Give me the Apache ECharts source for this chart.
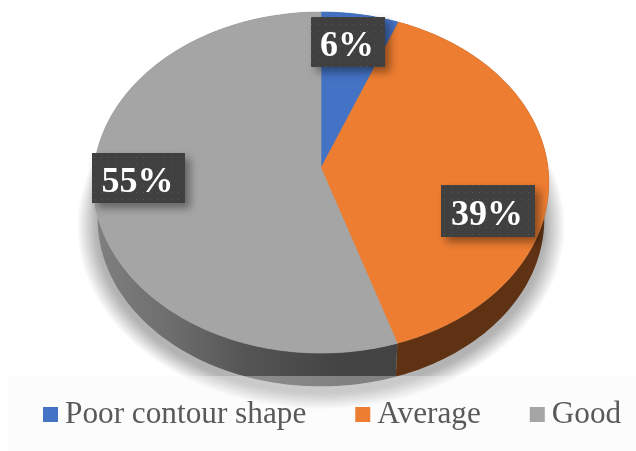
<!DOCTYPE html>
<html>
<head>
<meta charset="utf-8">
<style>
html, body { margin: 0; padding: 0; background: #fff; }
#main { width: 636px; height: 451px; filter: blur(0.5px); }
</style>
<script src="https://cdn.jsdelivr.net/npm/echarts@6/dist/echarts.min.js"></script>
</head>
<body>
<div id="main"></div>
<script>
// data
var categories = ['Poor contour shape', 'Average', 'Good'];
var values = [6, 39, 55];
var labels = ['6%', '39%', '55%'];
var colors = ['#4472c4', '#ed7d31', '#a5a5a5'];

// tilted disc: circle seen in perspective
var cx = 321, cy = 168, rx = 227, ry = 169.3, persp = -0.0852;
var depth = 37, baseScale = 0.98;
var labelCenters = [[348, 42], [488, 211], [138.5, 178]];
var labelSizes = [[74, 50], [94, 52], [93, 50]];

var total = values.reduce(function (a, b) { return a + b; }, 0);

function project(deg, scale, dy) {
    var t = deg * Math.PI / 180;
    var u = Math.sin(t), v = -Math.cos(t);
    var w = 1 + persp * v;
    return [cx + scale * rx * u / w, cy + dy + scale * ry * v / w];
}

function arc(from, to, scale, dy) {
    var pts = [];
    var n = Math.max(2, Math.ceil(to - from));
    for (var i = 0; i <= n; i++) {
        pts.push(project(from + (to - from) * i / n, scale, dy));
    }
    return pts;
}

// little dotted texture of the label boxes
var dots = document.createElement('canvas');
dots.width = dots.height = 7;
var dctx = dots.getContext('2d');
dctx.fillStyle = '#404040';
dctx.fillRect(0, 0, 7, 7);
dctx.fillStyle = '#585858';
dctx.fillRect(3, 3, 1, 1);

function wallFill(i) {
    if (i === 2) {
        return new echarts.graphic.LinearGradient(93, 0, 397, 0, [
            { offset: 0, color: '#808080' },
            { offset: 0.25, color: '#6e6e6e' },
            { offset: 0.5, color: '#555555' },
            { offset: 0.8, color: '#444444' },
            { offset: 1, color: '#434343' }
        ], true);
    }
    return i === 1 ? '#5f3214' : '#29446f';
}

// soft shadow under the disc, stacked from faint rings
function shadowRings() {
    var rings = [];
    for (var n = 0; n < 20; n++) {
        rings.push({
            type: 'polygon',
            z2: 0,
            shape: { points: arc(0, 360, baseScale + 0.09 - n * 0.0045, depth + 6) },
            style: { fill: 'rgba(0,0,0,0.017)' }
        });
    }
    return rings;
}

function renderSlice(params, api) {
    var i = params.seriesIndex;
    var start = 0;
    for (var k = 0; k < i; k++) start += values[k];
    var from = start / total * 360;
    var to = from + api.value(0) / total * 360;
    var rim = arc(from, to, 1, 0);
    var base = arc(from, to, baseScale, depth).reverse();
    var c = labelCenters[i], s = labelSizes[i];
    var children = [
        {
            type: 'polygon',
            z2: 1,
            shape: { points: rim.concat(base) },
            style: { fill: wallFill(i) }
        },
        {
            type: 'polygon',
            z2: 2,
            shape: { points: [[cx, cy]].concat(rim) },
            style: { fill: colors[i], stroke: colors[i], lineWidth: 0.6 }
        },
        {
            type: 'rect',
            z2: 3,
            shape: { x: c[0] - s[0] / 2, y: c[1] - s[1] / 2, width: s[0], height: s[1] },
            style: {
                fill: { image: dots, repeat: 'repeat' },
                shadowBlur: 8,
                shadowOffsetX: 5,
                shadowOffsetY: 5,
                shadowColor: 'rgba(0,0,0,0.4)'
            }
        },
        {
            type: 'text',
            z2: 4,
            x: c[0] - 1,
            y: c[1] + 5,
            style: {
                text: labels[i],
                fill: '#ffffff',
                font: 'bold 36px "Liberation Serif"',
                align: 'center',
                verticalAlign: 'middle'
            }
        }
    ];
    return { type: 'group', children: i === 0 ? shadowRings().concat(children) : children };
}

var chart = echarts.init(document.getElementById('main'));

var series = categories.map(function (name, i) {
    return {
        name: name,
        type: 'custom',
        coordinateSystem: 'none',
        renderItem: renderSlice,
        itemStyle: { color: colors[i] },
        animation: false,
        silent: true,
        data: [[values[i]]]
    };
});

var option = {
    backgroundColor: '#ffffff',
    animation: false,
    legend: {
        data: categories,
        left: 43,
        top: 399,
        icon: 'rect',
        itemWidth: 15,
        itemHeight: 15,
        itemGap: 49,
        padding: 0,
        selectedMode: false,
        z: 20,
        textStyle: {
            fontFamily: 'Liberation Serif',
            fontSize: 31.25,
            color: '#595959',
            padding: [0, 0, 0, 2]
        }
    },
    graphic: [
        {
            type: 'rect',
            z: 10,
            silent: true,
            shape: { x: 8, y: 376, width: 628, height: 75 },
            style: { fill: 'rgba(246,246,246,0.35)' }
        }
    ],
    series: series
};

chart.setOption(option);
</script>
</body>
</html>
